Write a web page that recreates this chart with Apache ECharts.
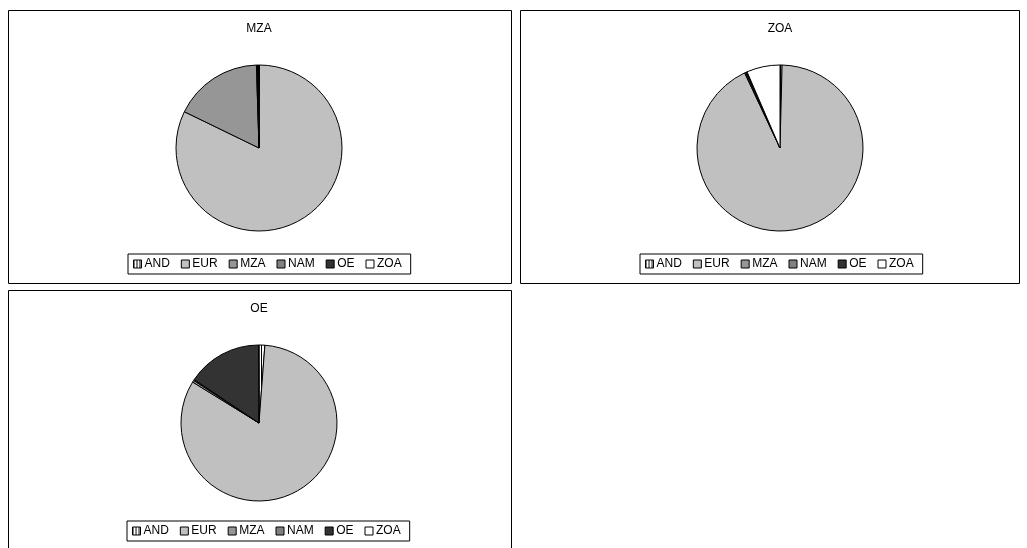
<!DOCTYPE html>
<html>
<head>
<meta charset="utf-8">
<script src="https://cdn.jsdelivr.net/npm/echarts@6/dist/echarts.min.js"></script>
<style>
html,body{margin:0;padding:0;background:#fff;}
#c{width:1027px;height:548px;}
</style>
</head>
<body>
<div id="c"></div>
<script>
// Data
const regions = ['AND', 'EUR', 'MZA', 'NAM', 'OE', 'ZOA'];
const chartTitles = ['MZA', 'ZOA', 'OE'];
const mzaShares = [0.1, 82.1, 17.3, 0.2, 0.2, 0.1];
const zoaShares = [0.4, 92.6, 0.2, 0.2, 0.1, 6.5];
const oeShares = [1.2, 82.6, 0.4, 0.2, 15.5, 0.1];

// AND hatch pattern (vertical lines)
const pc = document.createElement('canvas');
pc.width = 3; pc.height = 3;
const pctx = pc.getContext('2d');
pctx.fillStyle = '#ffffff'; pctx.fillRect(0, 0, 3, 3);
pctx.fillStyle = '#000000'; pctx.fillRect(0, 0, 1, 3);
const andPattern = { image: pc, repeat: 'repeat' };

const fills = [andPattern, '#c0c0c0', '#969696', '#808080', '#333333', '#ffffff'];

function mkData(vals) {
  return regions.map((n, i) => ({ name: n, value: vals[i], itemStyle: { color: fills[i] } }));
}

const panels = [
  { title: chartTitles[0], vals: mzaShares, rect: [8.5, 10.5, 503, 273], center: [259, 148], r: 83, tx: 254, ty: 18, lx: 128, ly: 254 },
  { title: chartTitles[1], vals: zoaShares, rect: [520.5, 10.5, 499, 273], center: [780, 148], r: 83, tx: 775, ty: 18, lx: 640, ly: 254 },
  { title: chartTitles[2], vals: oeShares, rect: [8.5, 290.5, 503, 275], center: [259, 423], r: 78, tx: 254, ty: 298, lx: 127, ly: 521 }
];

const font = '"Liberation Sans", Arial, sans-serif';

const option = {
  animation: false,
  backgroundColor: '#ffffff',
  graphic: panels.map(p => ({
    type: 'rect', silent: true, z: -10,
    shape: { x: p.rect[0], y: p.rect[1], width: p.rect[2], height: p.rect[3] },
    style: { fill: '#ffffff', stroke: '#000000', lineWidth: 1 }
  })),
  title: panels.map(p => ({
    text: p.title, left: p.tx, top: p.ty, textAlign: 'center',
    textStyle: { fontFamily: font, fontSize: 12, fontWeight: 'normal', color: '#000' }
  })),
  legend: panels.map((p, i) => ({
    seriesIndex: i,
    data: regions,
    left: p.lx, top: p.ly,
    orient: 'horizontal',
    icon: 'rect',
    itemWidth: 8, itemHeight: 8, itemGap: 11,
    padding: [4, 9, 4, 5],
    borderColor: '#000', borderWidth: 1,
    selectedMode: false,
    itemStyle: { borderColor: '#000', borderWidth: 1 },
    textStyle: { fontFamily: font, fontSize: 12, color: '#000', padding: [0, 0, 0, -2] }
  })),
  series: panels.map(p => ({
    type: 'pie',
    center: p.center,
    radius: p.r,
    startAngle: 90,
    clockwise: true,
    label: { show: false },
    labelLine: { show: false },
    emphasis: { disabled: true },
    silent: true,
    itemStyle: { borderColor: '#000', borderWidth: 1 },
    data: mkData(p.vals)
  }))
};

const chart = echarts.init(document.getElementById('c'), null, { renderer: 'canvas' });
chart.setOption(option);
</script>
</body>
</html>
